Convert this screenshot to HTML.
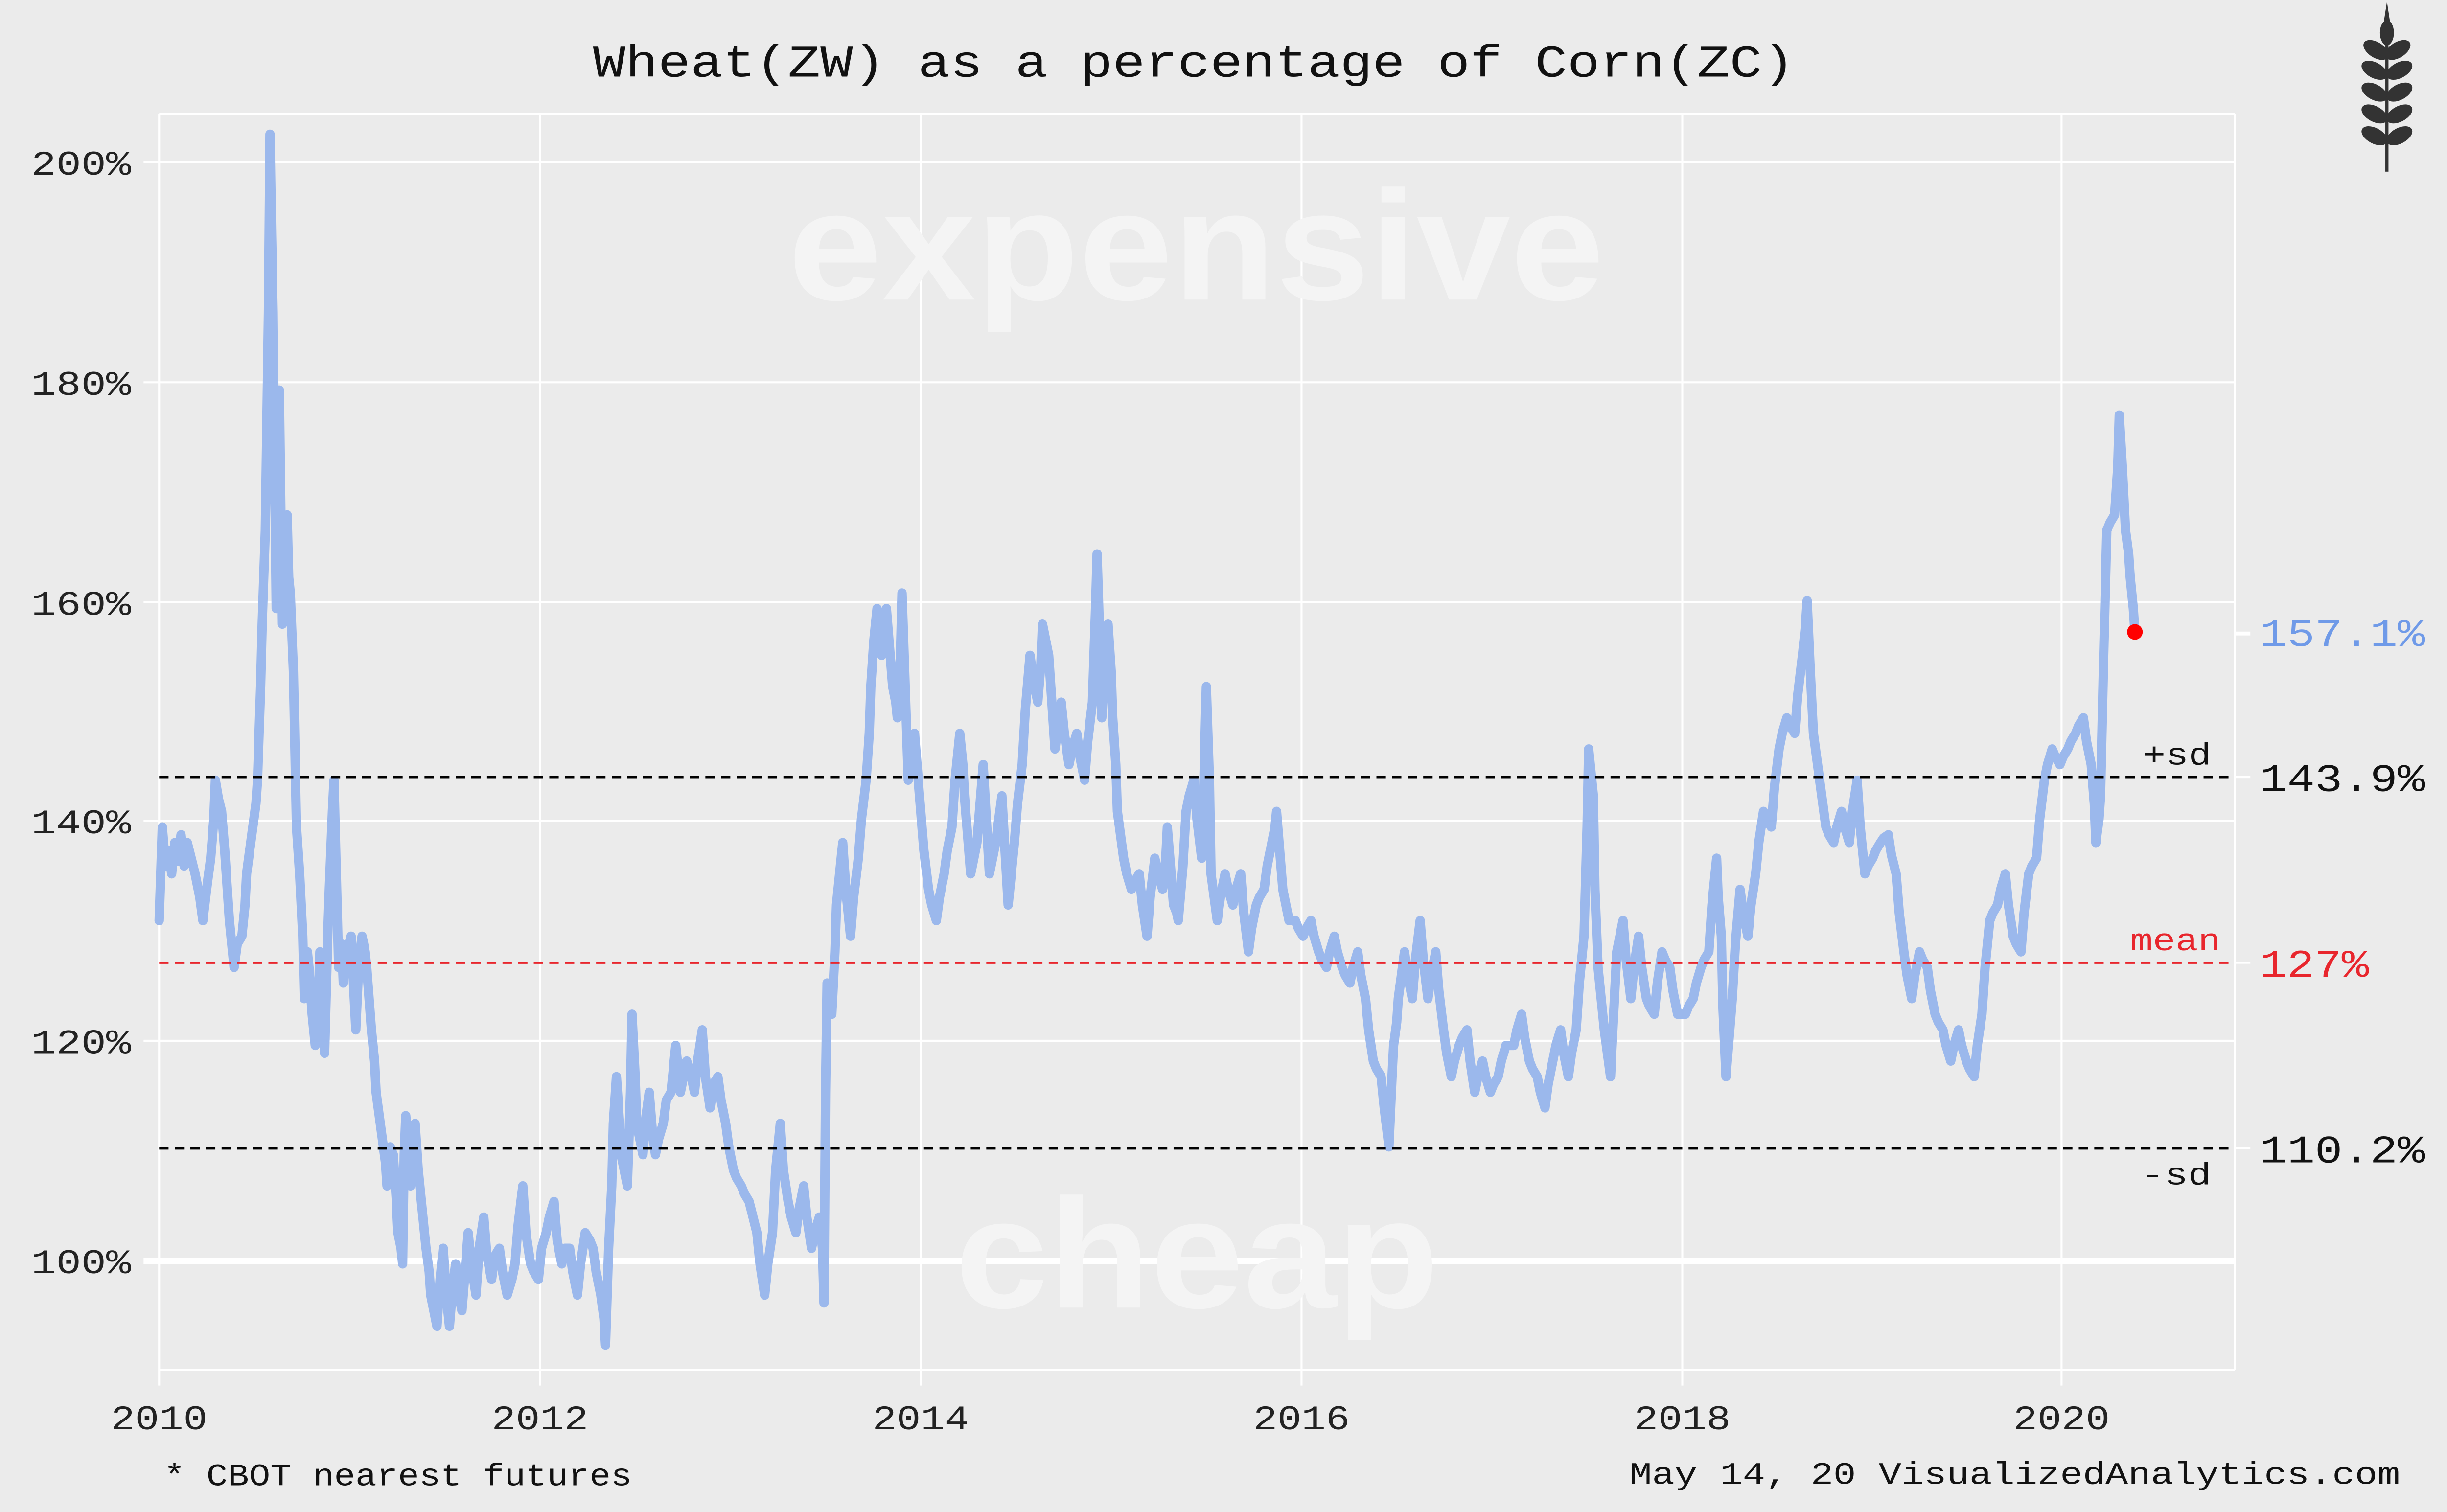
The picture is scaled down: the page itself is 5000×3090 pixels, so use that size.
<!DOCTYPE html>
<html><head><meta charset="utf-8"><style>
html,body{margin:0;padding:0;background:#ebebeb;}
svg{display:block;}
text{font-family:"Liberation Mono","DejaVu Sans Mono",monospace;}
</style></head><body>
<svg width="5000" height="3090" viewBox="0 0 1568 969" xmlns="http://www.w3.org/2000/svg">
<rect x="0" y="0" width="1568" height="969" fill="#ebebeb"/>
<g stroke="#ffffff" stroke-width="1.3" fill="none">
<line x1="102" y1="73" x2="1432" y2="73"/>
<line x1="1432" y1="73" x2="1432" y2="878"/>
<line x1="102" y1="878" x2="1432" y2="878"/>
<line x1="102" y1="73" x2="102" y2="888"/>
<line x1="346" y1="73" x2="346" y2="888"/>
<line x1="590" y1="73" x2="590" y2="888"/>
<line x1="834" y1="73" x2="834" y2="888"/>
<line x1="1078" y1="73" x2="1078" y2="888"/>
<line x1="1321" y1="73" x2="1321" y2="888"/>
<line x1="92" y1="104" x2="1432" y2="104"/>
<line x1="92" y1="245" x2="1432" y2="245"/>
<line x1="92" y1="386" x2="1432" y2="386"/>
<line x1="92" y1="526" x2="1432" y2="526"/>
<line x1="92" y1="667" x2="1432" y2="667"/>
<line x1="1432" y1="406" x2="1442" y2="406" stroke-width="2.5"/>
<line x1="1432" y1="498" x2="1442" y2="498"/>
<line x1="1432" y1="617" x2="1442" y2="617"/>
<line x1="1432" y1="736" x2="1442" y2="736"/>
</g>
<line x1="92" y1="808" x2="1432" y2="808" stroke="#ffffff" stroke-width="4"/>
<text x="505" y="192" textLength="523" lengthAdjust="spacingAndGlyphs" style="font-family:'Liberation Sans',sans-serif" font-weight="bold" font-size="100" fill="#f4f4f4">expensive</text>
<text x="612" y="838" textLength="310" lengthAdjust="spacingAndGlyphs" style="font-family:'Liberation Sans',sans-serif" font-weight="bold" font-size="100" fill="#f4f4f4">cheap</text>
<polyline fill="none" stroke="#9bb8ec" stroke-width="6" stroke-linejoin="round" stroke-linecap="round" points="
102,590 104,530 106,555 108,545 110,560 112,540 114,552 116,535 118,555 120,540 122,548 125,560 128,575 130,590 133,565 135,550 137,525 138,500 140,512 142,520 144,545 145,560 147,590 150,620 152,605 155,600 157,580 158,560 160,545 162,530 164,515 165,500 167,440 168,400 170,340 172,200 173,86 174,150 175,200 176,300 177,390 178,300 179,250 180,330 181,400 182,360 184,330 185,370 186,380 188,430 190,530 192,560 194,600 195,640 197,610 198,620 200,650 202,670 204,640 205,610 207,640 208,675 210,600 211,570 213,520 214,500 216,580 217,620 219,605 220,630 222,610 225,600 227,640 228,660 230,615 232,600 234,610 235,620 238,660 240,680 241,700 243,715 245,730 247,745 248,760 250,735 252,740 254,770 255,790 257,800 258,810 259,740 260,715 262,740 263,760 265,735 266,720 268,750 270,770 272,790 273,800 275,815 276,830 278,840 280,850 282,820 284,800 286,830 288,850 290,825 292,810 294,830 296,840 298,815 300,790 302,810 305,830 307,800 310,780 312,805 315,820 317,805 320,800 322,815 325,830 328,820 330,810 332,785 335,760 337,790 340,810 342,815 345,820 347,800 350,790 352,780 355,770 357,795 360,810 362,800 365,800 367,815 370,830 372,810 375,790 378,795 380,800 382,815 385,830 387,845 388,862 390,800 392,760 393,720 395,690 397,720 398,740 400,750 402,760 404,700 405,650 407,690 408,720 410,730 412,740 414,715 416,700 418,725 420,740 422,730 425,720 427,705 430,700 432,680 433,670 435,690 436,700 438,690 440,680 443,690 445,700 447,680 450,660 452,690 455,710 457,695 460,690 462,705 465,720 467,735 470,750 472,755 475,760 477,765 480,770 482,778 485,790 487,810 490,830 492,810 495,790 497,750 500,720 502,750 505,770 507,780 510,790 512,775 515,760 517,780 520,800 522,790 525,780 527,800 528,835 529,700 530,630 532,640 533,650 535,610 536,580 538,560 540,540 542,570 545,600 547,575 550,550 552,525 555,500 557,470 558,440 560,410 562,390 564,405 565,420 567,400 568,390 570,415 572,440 574,450 575,460 577,420 578,380 580,440 582,500 584,480 586,470 588,495 590,520 592,545 595,570 597,580 600,590 602,575 605,560 607,545 610,530 612,500 615,470 617,490 618,510 620,535 622,560 624,550 626,540 628,515 630,490 632,525 634,560 636,550 638,540 640,525 642,510 644,545 646,580 648,560 650,540 652,515 655,490 657,455 660,420 662,435 665,450 667,425 668,400 670,410 672,420 674,450 676,480 678,465 680,450 682,470 685,490 687,480 690,470 692,485 695,500 697,475 700,450 702,390 703,355 705,420 706,460 708,430 710,400 712,430 713,460 715,490 716,520 718,535 720,550 722,560 725,570 727,565 730,560 732,580 735,600 737,575 740,550 742,560 745,570 747,550 748,530 750,555 752,580 754,585 755,590 758,555 760,520 762,510 765,500 767,525 770,550 772,480 773,440 775,500 776,560 778,575 780,590 782,575 785,560 787,570 790,580 792,570 795,560 797,585 800,610 802,595 805,580 807,575 810,570 812,555 815,540 817,530 818,520 820,545 822,570 824,580 826,590 828,590 830,590 832,595 835,600 837,595 840,590 842,600 845,610 847,615 850,620 852,610 855,600 857,610 860,620 862,625 865,630 867,620 870,610 872,625 875,640 877,660 880,680 882,685 885,690 887,710 890,735 892,690 893,670 895,655 896,640 898,625 900,610 902,625 905,640 907,615 910,590 912,615 915,640 917,625 920,610 922,635 925,660 927,675 930,690 932,680 935,670 937,665 940,660 942,680 945,700 947,690 950,680 952,690 955,700 957,695 960,690 962,680 965,670 967,670 970,670 972,660 975,650 977,665 980,680 982,685 985,690 987,700 990,710 992,695 995,680 997,670 1000,660 1002,675 1005,690 1007,675 1010,660 1012,630 1015,600 1017,530 1018,480 1019,490 1021,510 1022,570 1024,620 1026,640 1028,660 1030,675 1032,690 1034,650 1036,610 1038,600 1040,590 1042,615 1045,640 1047,620 1050,600 1052,620 1055,640 1057,645 1060,650 1062,630 1065,610 1067,615 1070,620 1072,635 1075,650 1077,650 1080,650 1082,645 1085,640 1087,630 1090,620 1092,615 1095,610 1097,580 1100,550 1101,575 1103,600 1104,645 1106,690 1108,665 1110,640 1112,605 1115,570 1117,585 1120,600 1122,580 1125,560 1127,540 1130,520 1132,525 1135,530 1137,505 1140,480 1142,470 1145,460 1147,465 1150,470 1152,445 1155,420 1157,400 1158,385 1160,430 1162,470 1164,485 1166,500 1168,515 1170,530 1172,535 1175,540 1177,530 1180,520 1182,530 1185,540 1187,520 1190,500 1192,530 1195,560 1197,555 1200,550 1202,545 1205,540 1207,537 1210,535 1212,548 1215,560 1217,585 1220,610 1222,625 1225,640 1227,625 1230,610 1232,615 1235,620 1237,635 1240,650 1242,655 1245,660 1247,670 1250,680 1252,670 1255,660 1257,670 1260,680 1262,685 1265,690 1267,670 1270,650 1272,620 1275,590 1277,585 1280,580 1282,570 1285,560 1287,580 1290,600 1292,605 1295,610 1297,585 1300,560 1302,555 1305,550 1307,525 1310,500 1312,490 1315,480 1317,485 1320,490 1322,485 1325,480 1327,475 1330,470 1332,465 1335,460 1337,475 1340,490 1342,515 1343,540 1345,525 1346,510 1348,420 1350,340 1352,335 1355,330 1357,300 1358,266 1360,300 1362,340 1364,355 1365,370 1367,390 1368,405"/>
<g stroke-width="1.5" stroke-dasharray="6,4" fill="none">
<line x1="102" y1="498" x2="1432" y2="498" stroke="#000"/>
<line x1="102" y1="617" x2="1432" y2="617" stroke="#e8262d"/>
<line x1="102" y1="736" x2="1432" y2="736" stroke="#000"/>
</g>
<circle cx="1368" cy="405" r="5" fill="#ff0000"/>
<text x="380" y="49" textLength="770" lengthAdjust="spacingAndGlyphs" font-size="29" fill="#111">Wheat(ZW) as a percentage of Corn(ZC)</text>
<g font-size="22" fill="#222">
<text x="20" y="112" textLength="64" lengthAdjust="spacingAndGlyphs">200%</text>
<text x="20" y="253" textLength="64" lengthAdjust="spacingAndGlyphs">180%</text>
<text x="20" y="394" textLength="64" lengthAdjust="spacingAndGlyphs">160%</text>
<text x="20" y="534" textLength="64" lengthAdjust="spacingAndGlyphs">140%</text>
<text x="20" y="675" textLength="64" lengthAdjust="spacingAndGlyphs">120%</text>
<text x="20" y="816" textLength="64" lengthAdjust="spacingAndGlyphs">100%</text>
</g>
<g font-size="22" fill="#222">
<text x="71" y="916" textLength="62" lengthAdjust="spacingAndGlyphs">2010</text>
<text x="315" y="916" textLength="62" lengthAdjust="spacingAndGlyphs">2012</text>
<text x="559" y="916" textLength="62" lengthAdjust="spacingAndGlyphs">2014</text>
<text x="803" y="916" textLength="62" lengthAdjust="spacingAndGlyphs">2016</text>
<text x="1047" y="916" textLength="62" lengthAdjust="spacingAndGlyphs">2018</text>
<text x="1290" y="916" textLength="62" lengthAdjust="spacingAndGlyphs">2020</text>
</g>
<g font-size="25">
<text x="1448" y="414" fill="#6f9ae8" textLength="106" lengthAdjust="spacingAndGlyphs">157.1%</text>
<text x="1448" y="507" fill="#111" textLength="106" lengthAdjust="spacingAndGlyphs">143.9%</text>
<text x="1448" y="626" fill="#e8262d" textLength="70" lengthAdjust="spacingAndGlyphs">127%</text>
<text x="1448" y="745" fill="#111" textLength="106" lengthAdjust="spacingAndGlyphs">110.2%</text>
</g>
<g font-size="20">
<text x="1373" y="490" fill="#111" textLength="44" lengthAdjust="spacingAndGlyphs">+sd</text>
<text x="1365" y="609" fill="#e8262d" textLength="58" lengthAdjust="spacingAndGlyphs">mean</text>
<text x="1372" y="759" fill="#111" textLength="45" lengthAdjust="spacingAndGlyphs">-sd</text>
</g>
<text x="105" y="952" font-size="20" fill="#111" textLength="300" lengthAdjust="spacingAndGlyphs">* CBOT nearest futures</text>
<text x="1044" y="951" font-size="20" fill="#111" textLength="494" lengthAdjust="spacingAndGlyphs">May 14, 20  VisualizedAnalytics.com</text>
<g fill="#333">
<rect x="1528.5" y="22" width="2" height="88"/>
<ellipse cx="1529.5" cy="21" rx="4.5" ry="8"/>
<path d="M1529.5,1 L1531.5,14 L1527.5,14 Z"/>
<g transform="translate(1529.5,0)">
<ellipse cx="-7" cy="32" rx="9" ry="5" transform="rotate(32 -7 32)"/>
<ellipse cx="7" cy="32" rx="9" ry="5" transform="rotate(-32 7 32)"/>
<ellipse cx="-8" cy="45" rx="9" ry="5" transform="rotate(28 -8 45)"/>
<ellipse cx="8" cy="45" rx="9" ry="5" transform="rotate(-28 8 45)"/>
<ellipse cx="-8" cy="59" rx="9" ry="5" transform="rotate(28 -8 59)"/>
<ellipse cx="8" cy="59" rx="9" ry="5" transform="rotate(-28 8 59)"/>
<ellipse cx="-8" cy="73" rx="9" ry="5" transform="rotate(28 -8 73)"/>
<ellipse cx="8" cy="73" rx="9" ry="5" transform="rotate(-28 8 73)"/>
<ellipse cx="-8" cy="87" rx="9" ry="5" transform="rotate(28 -8 87)"/>
<ellipse cx="8" cy="87" rx="9" ry="5" transform="rotate(-28 8 87)"/>
</g>
</g>
</svg>
</body></html>
